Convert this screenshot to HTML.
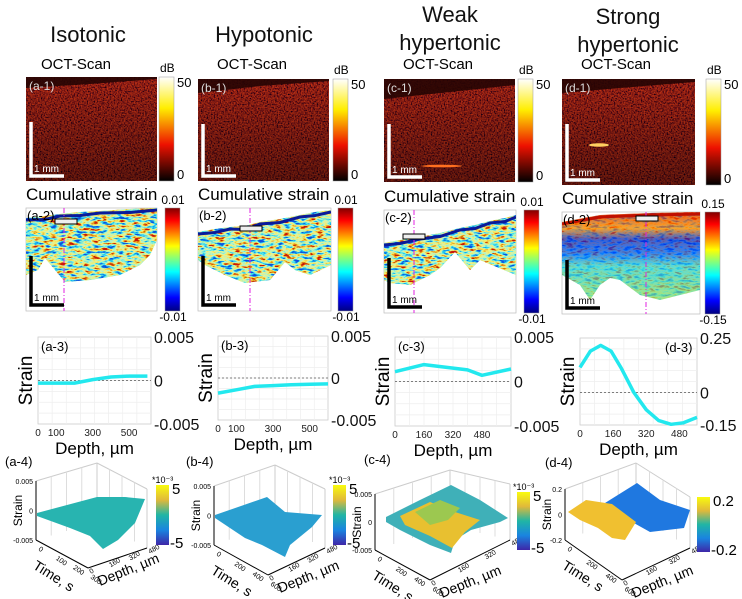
<!DOCTYPE html>
<html><head><meta charset="utf-8"><style>
html,body{margin:0;padding:0;background:#fff;}
svg{display:block;font-family:"Liberation Sans","DejaVu Sans",sans-serif;}
</style></head><body>
<svg id="fig" width="742" height="599" viewBox="0 0 742 599" xmlns="http://www.w3.org/2000/svg">
<defs>
  <filter id="octNoise" x="0" y="0" width="100%" height="100%">
    <feTurbulence type="fractalNoise" baseFrequency="0.7" numOctaves="2" seed="3"/>
    <feColorMatrix values="1.7 0 0 0 -0.45  0.12 0 0 0 -0.04  0 0 0 0 0.01  0 0 0 0 1"/>
  </filter>
  <filter id="jetNoise" x="0" y="0" width="100%" height="100%">
    <feTurbulence type="fractalNoise" baseFrequency="0.12 0.35" numOctaves="3" seed="7"/>
    <feColorMatrix values="2.2 0 0 0 -0.6  2.2 0 0 0 -0.6  2.2 0 0 0 -0.6  0 0 0 0 1"/>
    <feComponentTransfer>
      <feFuncR type="table" tableValues="0 0 0.05 0.5 0.85 1 0.9 0.6"/>
      <feFuncG type="table" tableValues="0.05 0.4 0.85 0.92 0.9 0.85 0.3 0"/>
      <feFuncB type="table" tableValues="0.8 1 0.9 0.6 0.3 0.1 0 0"/>
    </feComponentTransfer>
  </filter>
  <linearGradient id="hot" x1="0" y1="0" x2="0" y2="1">
    <stop offset="0" stop-color="#ffffff"/><stop offset="0.3" stop-color="#ffee00"/>
    <stop offset="0.65" stop-color="#ee1100"/><stop offset="1" stop-color="#000000"/>
  </linearGradient>
  <linearGradient id="jet" x1="0" y1="0" x2="0" y2="1">
    <stop offset="0" stop-color="#800000"/><stop offset="0.12" stop-color="#ff0000"/>
    <stop offset="0.37" stop-color="#ffff00"/><stop offset="0.62" stop-color="#00ffff"/>
    <stop offset="0.87" stop-color="#0000ff"/><stop offset="1" stop-color="#000080"/>
  </linearGradient>
  <linearGradient id="parula" x1="0" y1="0" x2="0" y2="1">
    <stop offset="0" stop-color="#f9fb0e"/><stop offset="0.25" stop-color="#e0b93a"/>
    <stop offset="0.5" stop-color="#20b5a5"/><stop offset="0.75" stop-color="#1a84e0"/>
    <stop offset="1" stop-color="#3e26a8"/>
  </linearGradient>
  <linearGradient id="octFade" x1="0" y1="0" x2="0" y2="1">
    <stop offset="0" stop-color="#000" stop-opacity="0"/><stop offset="1" stop-color="#000" stop-opacity="0.4"/>
  </linearGradient>
  <linearGradient id="dband" x1="0" y1="0" x2="0" y2="1">
    <stop offset="0" stop-color="#e02000"/><stop offset="0.18" stop-color="#ff8000"/>
    <stop offset="0.3" stop-color="#1020d0"/><stop offset="0.45" stop-color="#0050ff"/>
    <stop offset="0.6" stop-color="#30d0e0"/><stop offset="1" stop-color="#90e070"/>
  </linearGradient>
</defs>
<g id="content"></g>
</svg>
<script>
// ---- line chart data (row 3) ----
const depthA = [0, 100, 200, 300, 400, 500, 600];
const strainA = [-0.0003, -0.0003, -0.0003, 0.0001, 0.0004, 0.0005, 0.0005];
const depthB = [0, 100, 200, 300, 400, 500, 600];
const strainB = [-0.0018, -0.0014, -0.001, -0.0009, -0.0008, -0.00075, -0.0007];
const depthC = [0, 160, 400, 480, 640];
const strainC = [0.0011, 0.0019, 0.0013, 0.0007, 0.0014];
const depthD = [0, 50, 100, 150, 200, 260, 320, 380, 440, 500, 565];
const strainD = [0.115, 0.19, 0.216, 0.19, 0.11, 0.0, -0.08, -0.13, -0.147, -0.14, -0.115];
const ticksA = [0, 100, 300, 500];
const ticksB = [0, 100, 300, 500];
const ticksC = [0, 160, 320, 480];
const ticksD = [0, 160, 320, 480];
const yLabelsSmall = ["0.005", "0", "-0.005"];
const yLabelsD = ["0.25", "0", "-0.15"];

const NS = "http://www.w3.org/2000/svg";
const root = document.getElementById("content");
function mk(tag, attrs, parent, text) {
  const e = document.createElementNS(NS, tag);
  for (const k in attrs) e.setAttribute(k, attrs[k]);
  if (text !== undefined) e.textContent = text;
  (parent || root).appendChild(e);
  return e;
}

// ---- Titles ----
const titles = [
  {x: 88, lines: [["Isotonic", 42]]},
  {x: 264, lines: [["Hypotonic", 42]]},
  {x: 450, lines: [["Weak", 22], ["hypertonic", 50]]},
  {x: 628, lines: [["Strong", 24], ["hypertonic", 52]]}
];
titles.forEach((t, i) => {
  t.lines.forEach(l => {
    const e = mk("text", {x: t.x, y: l[1], "font-size": 22, "text-anchor": "middle", fill: "#111"}, root, l[0]);
    
    
  });
});

// ---- Row 1: OCT scans ----
const oct = [
  {lbl: "(a-1)", x: 26, y: 77, w: 131, h: 104, cb: 159, tx: 88, band: "26,77 157,77 157,79 90,84 26,88"},
  {lbl: "(b-1)", x: 198, y: 79, w: 131, h: 102, cb: 333, tx: 264, band: "198,79 329,79 329,81 260,86 198,93"},
  {lbl: "(c-1)", x: 384, y: 79, w: 131, h: 103, cb: 518, tx: 450, band: "384,79 515,79 515,85 450,92 384,99"},
  {lbl: "(d-1)", x: 562, y: 79, w: 133, h: 106, cb: 706, tx: 628, band: "562,79 695,79 695,82 620,88 562,93"}
];
oct.forEach((p, i) => {
  const g = mk("g", {});
  
  
  mk("text", {x: p.tx - 12, y: 69, "font-size": 15, "text-anchor": "middle"}, g, "OCT-Scan");
  mk("rect", {x: p.x, y: p.y, width: p.w, height: p.h, fill: "#3a0604"}, g);
  mk("rect", {x: p.x, y: p.y, width: p.w, height: p.h, filter: "url(#octNoise)", opacity: 0.8}, g);
  mk("rect", {x: p.x, y: p.y, width: p.w, height: p.h, fill: "url(#octFade)"}, g);
  mk("polygon", {points: p.band, fill: "#260403", opacity: 0.9}, g);
  if (i === 2) mk("ellipse", {cx: 442, cy: 166, rx: 20, ry: 1.3, fill: "#ff7020"}, g);
  if (i === 3) mk("ellipse", {cx: 599, cy: 145, rx: 10, ry: 1.8, fill: "#ffd060"}, g);
  mk("path", {d: `M${p.x+5} ${p.y+45} V${p.y+p.h-5} H${p.x+38}`, stroke: "#fff", "stroke-width": 3.5, fill: "none"}, g);
  mk("text", {x: p.x + 8, y: p.y + p.h - 9, "font-size": 10, fill: "#fff"}, g, "1 mm");
  mk("text", {x: p.x + 3, y: p.y + 13, "font-size": 12, fill: "#ddd"}, g, p.lbl);
  const cb = mk("rect", {x: p.cb, y: p.y, width: 15, height: p.h, fill: "url(#hot)", stroke: "#999", "stroke-width": 0.5}, g);
  
  
  mk("text", {x: p.cb + 1, y: p.y - 5, "font-size": 12}, g, "dB");
  mk("text", {x: p.cb + 18, y: p.y + 10, "font-size": 13}, g, "50");
  mk("text", {x: p.cb + 18, y: p.y + p.h - 2, "font-size": 13}, g, "0");
});

// ---- Row 2: Cumulative strain maps ----
const maps = [
  {lbl: "(a-2)", x: 26, y: 208, w: 131, h: 103, cb: 165, top: "26,218 45,216 60,214 80,212 100,211 130,209 157,208", bot: "157,240 150,255 140,265 120,275 90,280 65,282 55,270 45,258 38,270 26,275", vx: 64, bar: [55, 219], lim: ["0.01", "-0.01"]},
  {lbl: "(b-2)", x: 198, y: 208, w: 133, h: 103, cb: 338, top: "198,232 215,229 230,227 245,226 260,222 280,219 300,215 315,212 331,210", bot: "331,265 310,275 295,270 285,262 270,280 245,283 225,275 215,270 205,265 198,260", vx: 250, bar: [240, 226], lim: ["0.01", "-0.01"]},
  {lbl: "(c-2)", x: 384, y: 210, w: 132, h: 103, cb: 524, top: "384,243 400,240 420,237 440,233 460,228 475,225 490,221 505,218 516,215", bot: "516,275 480,260 470,270 455,252 440,268 430,275 410,285 390,283 384,280", vx: 414, bar: [403, 234], lim: ["0.01", "-0.01"]},
  {lbl: "(d-2)", x: 562, y: 212, w: 138, h: 102, cb: 705, top: "562,222 600,215 650,213 700,212", bot: "700,290 660,300 640,295 620,280 610,278 600,285 590,300 580,285 562,275", vx: 646, bar: [636, 216], lim: ["0.15", "-0.15"]}
];
maps.forEach((p, i) => {
  const g = mk("g", {});
  
  
  mk("text", {x: p.x, y: p.y - 8, "font-size": 17}, g, "Cumulative strain");
  mk("rect", {x: p.x, y: p.y, width: p.w, height: p.h, fill: "#fff", stroke: "#bbb", "stroke-width": 0.7}, g);
  const cpId = "clip" + i;
  const cp = mk("clipPath", {id: cpId}, g);
  mk("polygon", {points: p.top + " " + p.bot}, cp);
  const tg = mk("g", {"clip-path": `url(#${cpId})`}, g);
  if (i === 3) {
    mk("rect", {x: p.x, y: p.y, width: p.w, height: 90, fill: "url(#dband)"}, tg);
    mk("rect", {x: p.x, y: p.y, width: p.w, height: p.h, filter: "url(#jetNoise)", opacity: 0.3}, tg);
  } else {
    mk("rect", {x: p.x, y: p.y, width: p.w, height: p.h, fill: "#a0e080"}, tg);
    mk("rect", {x: p.x, y: p.y, width: p.w, height: p.h, filter: "url(#jetNoise)", opacity: 0.9}, tg);
  }
  const topPts = p.top.split(" ").map(s => s.split(",").map(Number));
  if (i !== 3) {
    mk("polyline", {points: topPts.map((q, k) => q[0] + "," + (q[1] + 2 + (k % 2) * 1.5)).join(" "), stroke: "#0a1a9a", "stroke-width": 3, fill: "none"}, tg);
  } else {
    mk("polyline", {points: topPts.map(q => q[0] + "," + (q[1] + 2)).join(" "), stroke: "#c01000", "stroke-width": 3, fill: "none"}, tg);
  }
  mk("line", {x1: p.vx, y1: p.y, x2: p.vx, y2: p.y + p.h, stroke: "#e020e0", "stroke-width": 1, "stroke-dasharray": "5 2 1 2"}, g);
  mk("rect", {x: p.bar[0], y: p.bar[1], width: 22, height: 5, fill: "#eee", stroke: "#000", "stroke-width": 1}, g);
  mk("path", {d: `M${p.x+5} ${p.y+48} V${p.y+p.h-6} H${p.x+38}`, stroke: "#000", "stroke-width": 3.5, fill: "none"}, g);
  mk("text", {x: p.x + 8, y: p.y + p.h - 10, "font-size": 10}, g, "1 mm");
  mk("text", {x: p.x + 1, y: p.y + 12, "font-size": 13}, g, p.lbl);
  const cb = mk("rect", {x: p.cb, y: p.y, width: 15, height: p.h, fill: "url(#jet)", stroke: "#999", "stroke-width": 0.5}, g);
  
  
  mk("text", {x: p.cb + 8, y: p.y - 4, "font-size": 12, "text-anchor": "middle"}, g, p.lim[0]);
  mk("text", {x: p.cb + 8, y: p.y + p.h + 10, "font-size": 12, "text-anchor": "middle"}, g, p.lim[1]);
});

// ---- Row 3: strain vs depth line charts ----
function lineChart(o) {
  const g = mk("g", {});
  
  
  const xs = v => o.x0 + (v - o.dmin) / (o.dmax - o.dmin) * o.w;
  const ys = v => o.y0 + o.h - (v - o.smin) / (o.smax - o.smin) * o.h;
  mk("rect", {x: o.x0, y: o.y0, width: o.w, height: o.h, fill: "#fff", stroke: "#ccc", "stroke-width": 0.8}, g);
  for (let k = 1; k < 8; k++) {
    mk("line", {x1: o.x0, x2: o.x0 + o.w, y1: o.y0 + k * o.h / 8, y2: o.y0 + k * o.h / 8, stroke: "#eee", "stroke-width": 0.7}, g);
    mk("line", {y1: o.y0, y2: o.y0 + o.h, x1: o.x0 + k * o.w / 8, x2: o.x0 + k * o.w / 8, stroke: "#eee", "stroke-width": 0.7}, g);
  }
  mk("line", {x1: o.x0, x2: o.x0 + o.w, y1: ys(0), y2: ys(0), stroke: "#555", "stroke-width": 0.8, "stroke-dasharray": "2 2"}, g);
  const pts = o.depth.map((d, k) => xs(d).toFixed(1) + "," + ys(o.strain[k]).toFixed(1)).join(" ");
  const pl = mk("polyline", {points: pts, stroke: "#22e8ee", "stroke-width": 3.5, fill: "none", "stroke-linejoin": "round"}, g);
  
  
  o.ticks.forEach(t => {
    const tx = mk("text", {x: xs(t), y: o.y0 + o.h + 12, "font-size": 10, "text-anchor": "middle", fill: "#222"}, g, String(t));
    
    
  });
  const yv = [o.smax, 0, o.smin];
  o.ylabels.forEach((l, k) => {
    mk("text", {x: o.x0 + o.w + 3, y: ys(yv[k]) + 6, "font-size": 16, fill: "#111"}, g, l);
  });
  mk("text", {x: o.x0 + o.w / 2, y: o.y0 + o.h + 30, "font-size": 17, "text-anchor": "middle"}, g, "Depth, µm");
  mk("text", {x: o.x0 - 6, y: o.y0 + o.h / 2, "font-size": 19, "text-anchor": "middle", transform: `rotate(-90 ${o.x0 - 6} ${o.y0 + o.h / 2})`}, g, "Strain");
  mk("text", {x: o.lblRight ? o.x0 + o.w - 32 : o.x0 + 3, y: o.y0 + 14, "font-size": 13}, g, o.lbl);
}
lineChart({name: "chart-a3", lbl: "(a-3)", x0: 38, y0: 337, w: 113, h: 87, dmin: 0, dmax: 620, smin: -0.005, smax: 0.005, depth: depthA, strain: strainA, ticks: ticksA, ylabels: yLabelsSmall});
lineChart({name: "chart-b3", lbl: "(b-3)", x0: 218, y0: 336, w: 110, h: 84, dmin: 0, dmax: 600, smin: -0.005, smax: 0.005, depth: depthB, strain: strainB, ticks: ticksB, ylabels: yLabelsSmall});
lineChart({name: "chart-c3", lbl: "(c-3)", x0: 395, y0: 337, w: 116, h: 89, dmin: 0, dmax: 640, smin: -0.005, smax: 0.005, depth: depthC, strain: strainC, ticks: ticksC, ylabels: yLabelsSmall});
lineChart({name: "chart-d3", lbl: "(d-3)", x0: 580, y0: 338, w: 117, h: 87, dmin: 0, dmax: 565, smin: -0.15, smax: 0.25, depth: depthD, strain: strainD, ticks: ticksD, ylabels: yLabelsD, lblRight: true});

// ---- Row 4: 3D surfaces ----
const surf = [
  {lbl: "(a-4)", lx: 5, ly: 466, ax: 36, top: 481, bot: 540, fc: [88, 568], rc: [147, 548], back: 97, backTop: 463,
   polys: [{pts: "37,513 97,497 125,497 145,499 135,523 118,540 103,549 90,536 70,528 37,516", fill: "#28b4b0"}],
   cb: [156, 485, 60], cbt: ["5", "-5"], exp: true, yl: ["0.005", "0", "-0.005"], tl: "Time, s", tt: ["0","100","200","300"], dt: ["0","160","320","480"]},
  {lbl: "(b-4)", lx: 186, ly: 466, ax: 214, top: 486, bot: 545, fc: [268, 575], rc: [325, 548], back: 275, backTop: 465,
   polys: [{pts: "215,515 267,497 285,512 322,515 312,527 290,545 285,557 262,545 245,538 215,518", fill: "#2a9fd0"}],
   cb: [333, 485, 60], cbt: ["5", "-5"], exp: true, yl: ["0.005", "0", "-0.005"], tl: "Time, s", tt: ["0","200","400","600"], dt: ["0","160","320","480"]},
  {lbl: "(c-4)", lx: 364, ly: 464, ax: 375, top: 494, bot: 550, fc: [430, 580], rc: [510, 540], back: 450, backTop: 470,
   polys: [{pts: "386,517 420,500 451,485 480,500 508,518 500,522 471,530 455,540 451,553 430,545 400,530 386,522", fill: "#3fb0b8"},
           {pts: "400,516 430,502 455,512 480,520 465,532 452,548 430,536 405,525", fill: "#e8c030"},
           {pts: "415,512 440,500 460,508 448,520 430,525", fill: "#9cc850"}],
   cb: [517, 492, 58], cbt: ["5", "-5"], exp: true, yl: ["0.005", "0", "-0.005"], tl: "Time, s", tt: ["0","200","400","600"], dt: ["0","160","320","480"]},
  {lbl: "(d-4)", lx: 545, ly: 467, ax: 565, top: 489, bot: 540, fc: [622, 580], rc: [690, 548], back: 636, backTop: 463,
   polys: [{pts: "605,503 637,483 660,500 690,510 684,528 650,532 625,518", fill: "#1f78e0"},
           {pts: "568,512 586,500 612,504 636,522 625,540 612,538 598,528 580,520", fill: "#f0c030"}],
   cb: [697, 497, 55], cbt: ["0.2", "-0.2"], exp: false, yl: ["0.2", "0", "-0.2"], tl: "Time, s", tt: ["0","200","400","600"], dt: ["0","160","320","480"]}
];
surf.forEach((s, i) => {
  const g = mk("g", {});
  
  
  const dx = s.back - s.ax, dy = s.top - s.backTop;
  mk("line", {x1: s.back, y1: s.backTop, x2: s.back, y2: s.backTop + (s.bot - s.top), stroke: "#ccc"}, g);
  mk("line", {x1: s.ax, y1: s.top, x2: s.back, y2: s.backTop, stroke: "#ccc"}, g);
  mk("line", {x1: s.back, y1: s.backTop, x2: s.rc[0], y2: s.rc[1] - (s.bot - s.top), stroke: "#ccc"}, g);
  mk("line", {x1: s.rc[0], y1: s.rc[1] - (s.bot - s.top), x2: s.rc[0], y2: s.rc[1], stroke: "#ccc"}, g);
  for (let k = 1; k < 4; k++) {
    const bx = s.back + (s.rc[0] - s.back) * k / 4, by = s.backTop + (s.rc[1] - (s.bot - s.top) - s.backTop) * k / 4;
    mk("line", {x1: bx, y1: by, x2: bx, y2: by + (s.bot - s.top), stroke: "#ddd"}, g);
    const lx = s.ax + dx * k / 4, ly = s.top - dy * k / 4;
    mk("line", {x1: lx, y1: ly, x2: lx, y2: ly + (s.bot - s.top), stroke: "#ddd"}, g);
  }
  s.polys.forEach(p => {
    const pg = mk("polygon", {points: p.pts, fill: p.fill}, g);
    
    
  });
  mk("line", {x1: s.ax, y1: s.top, x2: s.ax, y2: s.bot, stroke: "#000", "stroke-width": 1}, g);
  mk("line", {x1: s.ax, y1: s.bot, x2: s.fc[0], y2: s.fc[1], stroke: "#000", "stroke-width": 1}, g);
  mk("line", {x1: s.fc[0], y1: s.fc[1], x2: s.rc[0], y2: s.rc[1], stroke: "#000", "stroke-width": 1}, g);
  const ymid = (s.top + s.bot) / 2;
  [s.top, ymid, s.bot].forEach((yy, k) => mk("text", {x: s.ax - 3, y: yy + 3, "font-size": 7, "text-anchor": "end"}, g, s.yl[k]));
  mk("text", {x: s.ax - 14, y: ymid, "font-size": 12, "text-anchor": "middle", transform: `rotate(-90 ${s.ax - 14} ${ymid})`}, g, "Strain");
  s.tt.forEach((t, k) => {
    const x = s.ax + (s.fc[0] - s.ax) * (k / 3) + 2, y = s.bot + (s.fc[1] - s.bot) * (k / 3) + 10;
    mk("text", {x: x, y: y, "font-size": 7, transform: `rotate(35 ${x} ${y})`}, g, t);
  });
  s.dt.forEach((t, k) => {
    const x = s.fc[0] + (s.rc[0] - s.fc[0]) * (k / 3) + 3, y = s.fc[1] + (s.rc[1] - s.fc[1]) * (k / 3) + 6;
    mk("text", {x: x, y: y, "font-size": 7, transform: `rotate(-30 ${x} ${y})`}, g, t);
  });
  const tx = s.ax - 4, ty = s.bot + 28;
  mk("text", {x: tx, y: ty, "font-size": 14, transform: `rotate(32 ${tx} ${ty})`}, g, s.tl);
  const dxp = s.fc[0] + 12, dyp = s.fc[1] + 18;
  mk("text", {x: dxp, y: dyp, "font-size": 14, transform: `rotate(-22 ${dxp} ${dyp})`}, g, "Depth, µm");
  mk("text", {x: s.lx, y: s.ly, "font-size": 13}, g, s.lbl);
  const cb = mk("rect", {x: s.cb[0], y: s.cb[1], width: 13, height: s.cb[2], fill: "url(#parula)"}, g);
  
  
  if (s.exp) mk("text", {x: s.cb[0] - 4, y: s.cb[1] - 2, "font-size": 9}, g, "*10⁻³");
  mk("text", {x: s.cb[0] + 16, y: s.cb[1] + 9, "font-size": 15}, g, s.cbt[0]);
  mk("text", {x: s.cb[0] + 14, y: s.cb[1] + s.cb[2] + 3, "font-size": 15}, g, s.cbt[1]);
});
</script>
</body></html>
